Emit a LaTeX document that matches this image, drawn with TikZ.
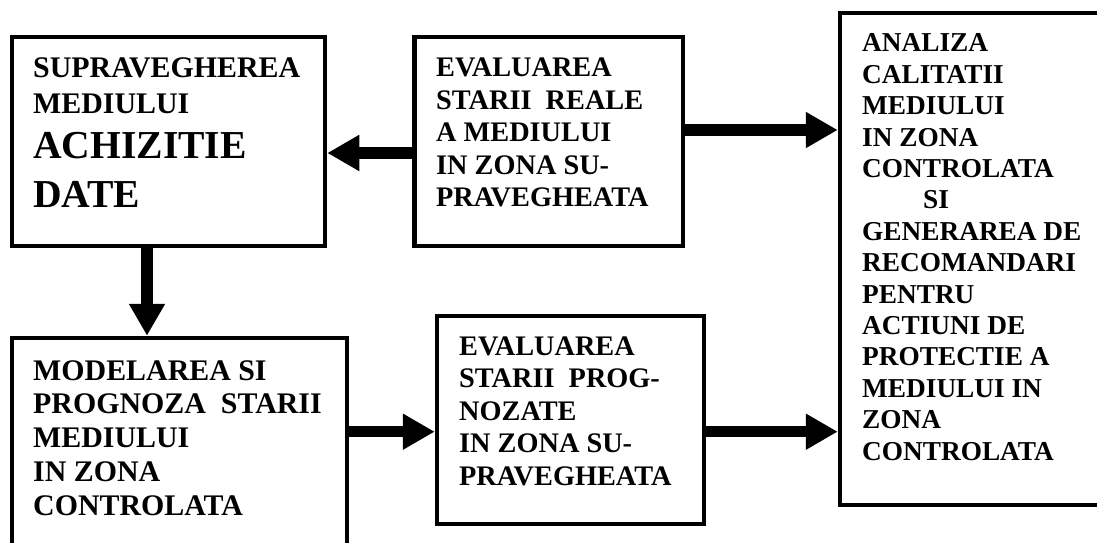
\documentclass[tikz,border=0pt]{standalone}
\usepackage{fontspec}
\setmainfont{Liberation Serif}
\usetikzlibrary{arrows.meta}

\begin{document}
\begin{tikzpicture}[x=1pt,y=-1pt]
        \tikzstyle{bloc} = [rectangle, draw, line width=4.5pt]
        \tikzstyle{eticheta} = [anchor=base west, align=left, inner sep=0pt, font=\bfseries\fontsize{28.3}{32.5}\selectfont]
        \tikzstyle{sageata} = [line width=11.5pt, -{Triangle[length=32pt, width=34pt]}]

        \useasboundingbox (0,0) rectangle (1097,542);

        % blocurile
        \node[bloc, minimum width=313pt, minimum height=209pt] (supr) at (168.5,141.5) {};
        \node[bloc, minimum width=268.5pt, minimum height=209pt] (evreal) at (548.75,141.5) {};
        \node[bloc, minimum width=270pt, minimum height=492pt] (analiza) at (975,259) {};
        \node[bloc, minimum width=335pt, minimum height=232pt] (model) at (179.5,454) {};
        \node[bloc, minimum width=267pt, minimum height=208pt] (evprog) at (570.5,420) {};

        % textele (ancorate la linia de baza a ultimului rand)
        \node[eticheta, font=\bfseries\fontsize{29.9}{36}\selectfont] (t1) at (33,113) {SUPRAVEGHEREA\\MEDIULUI};
        \node[eticheta, font=\bfseries\fontsize{39.6}{49}\selectfont] (t2) at (33,207) {ACHIZITIE\\DATE};
        \node[eticheta] (t3) at (436,206.7) {EVALUAREA\\STARII\ \ REALE\\A MEDIULUI\\IN ZONA SU-\\PRAVEGHEATA};
        \node[eticheta, font=\bfseries\fontsize{27.3}{31.4}\selectfont] (t4) at (862,460) {ANALIZA\\CALITATII\\MEDIULUI\\IN ZONA\\CONTROLATA\\\hspace*{61pt}SI\\GENERAREA DE\\RECOMANDARI\\PENTRU\\ACTIUNI DE\\PROTECTIE A\\MEDIULUI IN\\ZONA\\CONTROLATA};
        \node[eticheta, font=\bfseries\fontsize{29.9}{33.75}\selectfont] (t5) at (33,515) {MODELAREA SI\\PROGNOZA\ \ STARII\\MEDIULUI\\IN ZONA\\CONTROLATA};
        \node[eticheta] (t6) at (459,485) {EVALUAREA\\STARII\ \ PROG-\\NOZATE\\IN ZONA SU-\\PRAVEGHEATA};

        % sagetile
        \draw[sageata] ([yshift=-11.5pt]evreal.west) -- ([yshift=-11.5pt]evreal.west -| supr.east);
        \draw[sageata] ([yshift=11.5pt]evreal.east) -- ([yshift=11.5pt]evreal.east -| analiza.west);
        \draw[sageata] ([xshift=-21.5pt]supr.south) -- ([xshift=-21.5pt]supr.south |- model.north);
        \draw[sageata] ([yshift=22.3pt]model.east) -- ([yshift=22.3pt]model.east -| evprog.west);
        \draw[sageata] ([yshift=-11.7pt]evprog.east) -- ([yshift=-11.7pt]evprog.east -| analiza.west);
    \end{tikzpicture}
\end{document}
